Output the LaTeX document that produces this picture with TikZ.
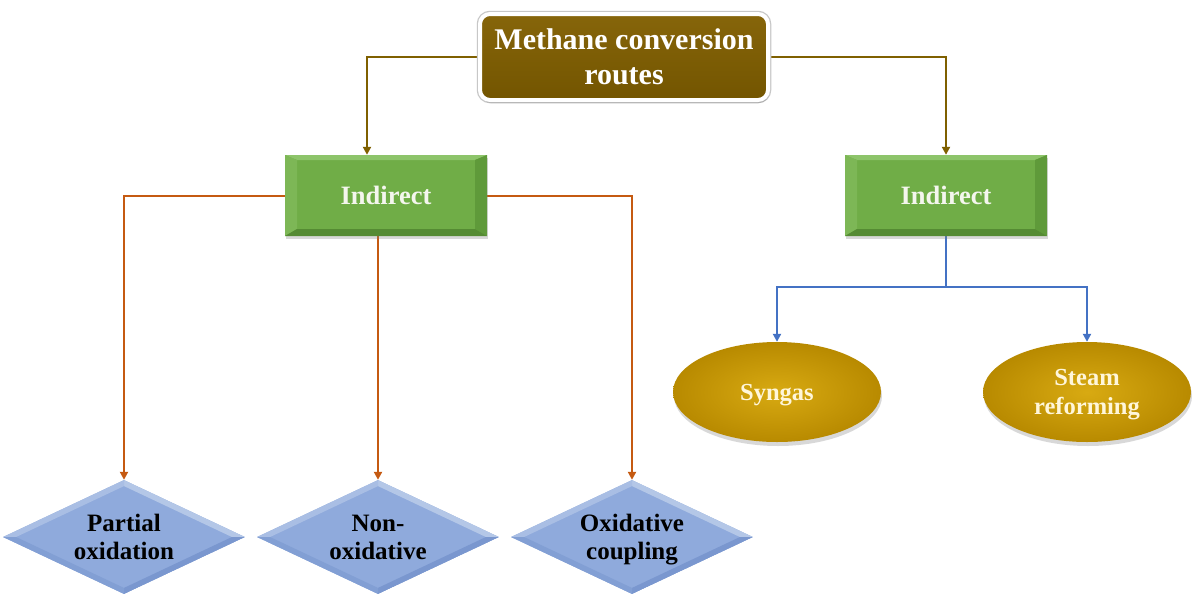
\documentclass[tikz,border=0pt]{standalone}
\usepackage{fontspec}
\setmainfont{Liberation Serif}
\usetikzlibrary{shapes.geometric,arrows.meta,calc,shadows}
\definecolor{ttlTop}{HTML}{86650A}
\definecolor{ttlBot}{HTML}{735500}
\definecolor{ttlLine}{HTML}{7F6000}
\definecolor{grFace}{HTML}{70AD47}
\definecolor{grTop}{HTML}{8DC46A}
\definecolor{grLeft}{HTML}{7DB756}
\definecolor{grRight}{HTML}{5F9A3A}
\definecolor{grBot}{HTML}{558B33}
\definecolor{dmFace}{HTML}{8FAADC}
\definecolor{dmLight}{HTML}{B4C7E7}
\definecolor{dmDark}{HTML}{7A97CF}
\definecolor{elIn}{HTML}{D8AA12}
\definecolor{elOut}{HTML}{B88A00}
\definecolor{orLine}{HTML}{C55A11}
\definecolor{blLine}{HTML}{4472C4}
\definecolor{grText}{HTML}{F4F6EE}
\definecolor{elText}{HTML}{FFF6DA}
\pgfdeclarelayer{bg}
\pgfsetlayers{bg,main}
\tikzset{
  conn/.style={line width=2pt, -{Triangle[length=8pt,width=8pt]}},
  titlebox/.style={rectangle, rounded corners=10pt, draw=white, line width=4pt,
    preaction={draw=black!22, line width=6.5pt},
    top color=ttlTop, bottom color=ttlBot, minimum width=288pt, minimum height=86pt,
    text=white, align=center, font=\fontsize{30}{35}\selectfont\bfseries,
    drop shadow={shadow xshift=1pt, shadow yshift=-3pt, opacity=0.35}},
  greenbox/.style={rectangle, fill=grFace, minimum width=202pt, minimum height=81pt,
    text=grText, font=\fontsize{26.5}{30}\selectfont\bfseries,
    drop shadow={shadow xshift=1pt, shadow yshift=-3pt, opacity=0.3},
    path picture={
      \fill[grTop] (path picture bounding box.north west) -- (path picture bounding box.north east)
        -- ([shift={(-12pt,-5pt)}]path picture bounding box.north east)
        -- ([shift={(12pt,-5pt)}]path picture bounding box.north west) -- cycle;
      \fill[grLeft] (path picture bounding box.north west) -- ([shift={(12pt,-5pt)}]path picture bounding box.north west)
        -- ([shift={(12pt,7pt)}]path picture bounding box.south west) -- (path picture bounding box.south west) -- cycle;
      \fill[grRight] (path picture bounding box.north east) -- ([shift={(-12pt,-5pt)}]path picture bounding box.north east)
        -- ([shift={(-12pt,7pt)}]path picture bounding box.south east) -- (path picture bounding box.south east) -- cycle;
      \fill[grBot] (path picture bounding box.south west) -- (path picture bounding box.south east)
        -- ([shift={(-12pt,7pt)}]path picture bounding box.south east)
        -- ([shift={(12pt,7pt)}]path picture bounding box.south west) -- cycle;
    }},
  diam/.style={diamond, aspect=2.1, inner sep=0pt, minimum width=242pt, minimum height=114pt,
    fill=dmFace, text=black, align=center, text depth=0pt,
    font=\fontsize{25}{28}\selectfont\bfseries,
    path picture={
      \fill[dmLight] (path picture bounding box.north) -- (path picture bounding box.east)
        -- ([xshift=-13pt]path picture bounding box.east) -- ([yshift=-6pt]path picture bounding box.north) -- cycle;
      \fill[dmLight!70!dmFace] (path picture bounding box.north) -- (path picture bounding box.west)
        -- ([xshift=13pt]path picture bounding box.west) -- ([yshift=-6pt]path picture bounding box.north) -- cycle;
      \fill[dmDark] (path picture bounding box.south) -- (path picture bounding box.east)
        -- ([xshift=-13pt]path picture bounding box.east) -- ([yshift=6pt]path picture bounding box.south) -- cycle;
      \fill[dmDark!60!dmFace] (path picture bounding box.south) -- (path picture bounding box.west)
        -- ([xshift=13pt]path picture bounding box.west) -- ([yshift=6pt]path picture bounding box.south) -- cycle;
    }},
  ell/.style={ellipse, inner sep=0pt, minimum width=208pt, minimum height=100pt,
    inner color=elIn, outer color=elOut, text=elText, align=center, text depth=0pt,
    font=\fontsize{24.5}{29}\selectfont\bfseries,
    drop shadow={shadow xshift=1pt, shadow yshift=-4pt, opacity=0.3}},
}
\begin{document}
\begin{tikzpicture}[x=1pt,y=-1pt]
\useasboundingbox (0,0) rectangle (1200,606);

\node[titlebox] (t) at (624,57) {Methane conversion\\routes};
\node[greenbox] (g1) at (386,195.5) {Indirect};
\node[greenbox] (g2) at (946,195.5) {Indirect};
\node[diam] (d1) at (124,537) {Partial\\oxidation};
\node[diam] (d2) at (378,537) {Non-\\oxidative};
\node[diam] (d3) at (632,537) {Oxidative\\coupling};
\node[ell] (e1) at (777,392) {Syngas};
\node[ell] (e2) at (1087,392) {Steam\\reforming};
\coordinate (bj) at (946,287);

\begin{pgfonlayer}{bg}
\fill[white] (0,0) rectangle (1200,606);
\draw[conn, ttlLine] (t.west) -| ([xshift=-19pt]g1.north);
\draw[conn, ttlLine] (t.east) -| (g2.north);
\draw[conn, orLine] (g1.west) -| (d1.north);
\draw[conn, orLine] (g1.south -| d2.north) -- (d2.north);
\draw[conn, orLine] (g1.east) -| (d3.north);
\draw[blLine, line width=2pt] (g2.south) -- (bj);
\draw[conn, blLine] (bj) -| (e1.north);
\draw[conn, blLine] (bj) -| (e2.north);
\end{pgfonlayer}
\end{tikzpicture}
\end{document}
